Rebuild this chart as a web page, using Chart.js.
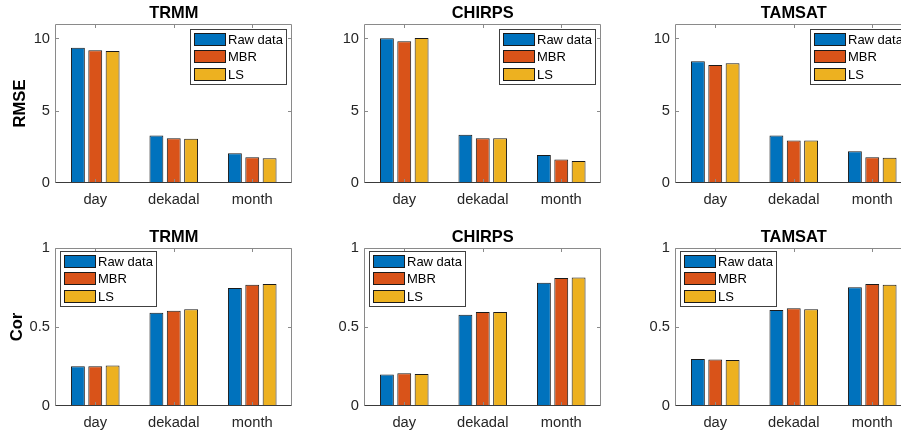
<!DOCTYPE html>
<html><head><meta charset="utf-8">
<script src="https://cdn.jsdelivr.net/npm/chart.js@4.4.0/dist/chart.umd.min.js"></script>
<style>
html,body{margin:0;padding:0;width:901px;height:434px;overflow:hidden;background:#fff;}
canvas{position:absolute;}
</style></head><body>
<canvas id="c0" width="300" height="210" style="left:0px;top:0px"></canvas>
<canvas id="c1" width="300" height="210" style="left:309px;top:0px"></canvas>
<canvas id="c2" width="300" height="210" style="left:620px;top:0px"></canvas>
<canvas id="c3" width="300" height="210" style="left:0px;top:224px"></canvas>
<canvas id="c4" width="300" height="210" style="left:309px;top:224px"></canvas>
<canvas id="c5" width="300" height="210" style="left:620px;top:224px"></canvas>
<script>
// ---- data ----
const categories = ['day', 'dekadal', 'month'];
const seriesNames = ['Raw data', 'MBR', 'LS'];
const productNames = ['TRMM', 'CHIRPS', 'TAMSAT'];
const metricNames = ['RMSE', 'Cor'];
const rmseTicks = [0, 5, 10];
const corTicks = [0, 0.5, 1];

const trmmRmseRaw = [9.35, 3.29, 2.06];
const trmmRmseMbr = [9.19, 3.10, 1.78];
const trmmRmseLs  = [9.14, 3.06, 1.71];
const chirpsRmseRaw = [10.02, 3.33, 1.94];
const chirpsRmseMbr = [9.81, 3.10, 1.62];
const chirpsRmseLs  = [10.03, 3.10, 1.53];
const tamsatRmseRaw = [8.43, 3.29, 2.20];
const tamsatRmseMbr = [8.17, 2.94, 1.78];
const tamsatRmseLs  = [8.29, 2.94, 1.74];

const trmmCorRaw = [0.251, 0.590, 0.747];
const trmmCorMbr = [0.251, 0.603, 0.768];
const trmmCorLs  = [0.257, 0.612, 0.772];
const chirpsCorRaw = [0.200, 0.578, 0.780];
const chirpsCorMbr = [0.207, 0.595, 0.810];
const chirpsCorLs  = [0.203, 0.595, 0.814];
const tamsatCorRaw = [0.298, 0.607, 0.751];
const tamsatCorMbr = [0.295, 0.618, 0.772];
const tamsatCorLs  = [0.291, 0.612, 0.768];

// ---- style ----
const FONT = '"Liberation Sans", Arial, Helvetica, sans-serif';
const colors = ['#0072BD', '#D95319', '#EDB120'];

const matlabAxes = {
  id: 'matlabAxes',
  afterDatasetsDraw(chart) {
    const ctx = chart.ctx, a = chart.chartArea;
    const x = chart.scales.x, y = chart.scales.y;
    const tl = 3.5;
    ctx.save();
    ctx.lineWidth = 1;
    ctx.strokeStyle = '#8a8a8a';
    const L = a.left - 0.5, R = a.right, T = a.top + 0.5, B = a.bottom - 0.5;
    ctx.beginPath();
    ctx.moveTo(L, B); ctx.lineTo(L, T); ctx.lineTo(R, T); ctx.lineTo(R, B);
    y.ticks.forEach(t => {
      const py = Math.round(y.getPixelForValue(t.value)) + 0.5;
      if (py > B - 1) return;
      ctx.moveTo(L, py); ctx.lineTo(L + tl, py);
      ctx.moveTo(R, py); ctx.lineTo(R - tl, py);
    });
    categories.forEach((c, i) => {
      const px = Math.round(x.getPixelForValue(i)) + 0.5;
      ctx.moveTo(px, T); ctx.lineTo(px, T + tl);
      ctx.moveTo(px, B); ctx.lineTo(px, B - tl);
    });
    ctx.stroke();
    ctx.strokeStyle = '#3a3a3a';
    ctx.beginPath();
    ctx.moveTo(L, B); ctx.lineTo(R, B);
    ctx.stroke();
    ctx.restore();
  },
  afterDraw(chart, args, opts) {
    const ctx = chart.ctx, a = chart.chartArea;
    const ds = chart.data.datasets;
    ctx.save();
    ctx.font = '13px ' + FONT;
    const tw = Math.max(...ds.map(d => ctx.measureText(d.label).width));
    const w = Math.round(3.5 + 32 + 2 + tw + 4);
    const h = 55;
    const lx = opts.corner === 'ne' ? Math.round(a.right - 5.5 - w) : Math.round(a.left + 4);
    const ly = Math.round(a.top + (opts.corner === 'ne' ? 5 : 3));
    ctx.fillStyle = '#fff';
    ctx.fillRect(lx, ly, w, h);
    ctx.strokeStyle = '#404040';
    ctx.lineWidth = 1;
    ctx.strokeRect(lx + 0.5, ly + 0.5, w, h);
    ds.forEach((d, i) => {
      const py = ly + 4 + i * 17.3;
      ctx.fillStyle = d.backgroundColor;
      ctx.fillRect(lx + 4, Math.round(py), 32, 13);
      ctx.strokeStyle = '#1a1a1a';
      ctx.strokeRect(lx + 4.5, Math.round(py) + 0.5, 31, 12);
      ctx.fillStyle = '#000';
      ctx.textBaseline = 'middle';
      ctx.textAlign = 'left';
      ctx.fillText(d.label, lx + 38, Math.round(py) + 7);
    });
    ctx.restore();
  }
};

function makeChart(id, title, series, tickVals, ymax, ylabel, ylabelPad, xh, corner) {
  new Chart(document.getElementById(id), {
    type: 'bar',
    data: {
      labels: categories,
      datasets: seriesNames.map((n, i) => ({
        label: n, data: series[i],
        backgroundColor: colors[i], borderColor: '#1a1a1a', borderWidth: 1,
        borderSkipped: false, categoryPercentage: 0.663, barPercentage: 0.8
      }))
    },
    options: {
      responsive: false, animation: false, devicePixelRatio: 1,
      layout: { padding: { left: 0, right: 8.5, top: 0, bottom: 0 } },
      plugins: {
        legend: { display: false }, tooltip: { enabled: false },
        title: {
          display: true, text: title, fullSize: false, color: '#000',
          font: { family: FONT, size: 16.4, weight: 'bold', lineHeight: 1.2 },
          padding: { top: 3.5, bottom: 0.82 }
        },
        matlabAxes: { corner: corner }
      },
      scales: {
        x: {
          type: 'category', offset: true,
          grid: { display: false, drawTicks: false }, border: { display: false },
          ticks: { color: '#262626', font: { family: FONT, size: 14.7, lineHeight: 1.2 }, padding: 8.3, maxRotation: 0, autoSkip: false },
          afterFit(s) { s.height = xh; }
        },
        y: {
          min: 0, max: ymax,
          grid: { display: false, drawTicks: false }, border: { display: false },
          ticks: { color: '#262626', font: { family: FONT, size: 14.7, lineHeight: 1.2 }, padding: 6,
                   callback: v => String(v) },
          afterBuildTicks(s) { s.ticks = tickVals.map(v => ({ value: v })); },
          afterFit(s) { s.width = 56; },
          title: {
            display: !!ylabel, text: ylabel, color: '#000',
            font: { family: FONT, size: 16.6, weight: 'bold', lineHeight: 1.2 },
            padding: { top: ylabelPad, bottom: 0 }
          }
        }
      }
    },
    plugins: [matlabAxes]
  });
}

makeChart('c0', productNames[0], [trmmRmseRaw, trmmRmseMbr, trmmRmseLs], rmseTicks, 11, metricNames[0], 10.5, 27, 'ne');
makeChart('c1', productNames[1], [chirpsRmseRaw, chirpsRmseMbr, chirpsRmseLs], rmseTicks, 11, '', 0, 27, 'ne');
makeChart('c2', productNames[2], [tamsatRmseRaw, tamsatRmseMbr, tamsatRmseLs], rmseTicks, 11, '', 0, 27, 'ne');
makeChart('c3', productNames[0], [trmmCorRaw, trmmCorMbr, trmmCorLs], corTicks, 1, metricNames[1], 7, 28, 'nw');
makeChart('c4', productNames[1], [chirpsCorRaw, chirpsCorMbr, chirpsCorLs], corTicks, 1, '', 0, 28, 'nw');
makeChart('c5', productNames[2], [tamsatCorRaw, tamsatCorMbr, tamsatCorLs], corTicks, 1, '', 0, 28, 'nw');
</script>
</body></html>
